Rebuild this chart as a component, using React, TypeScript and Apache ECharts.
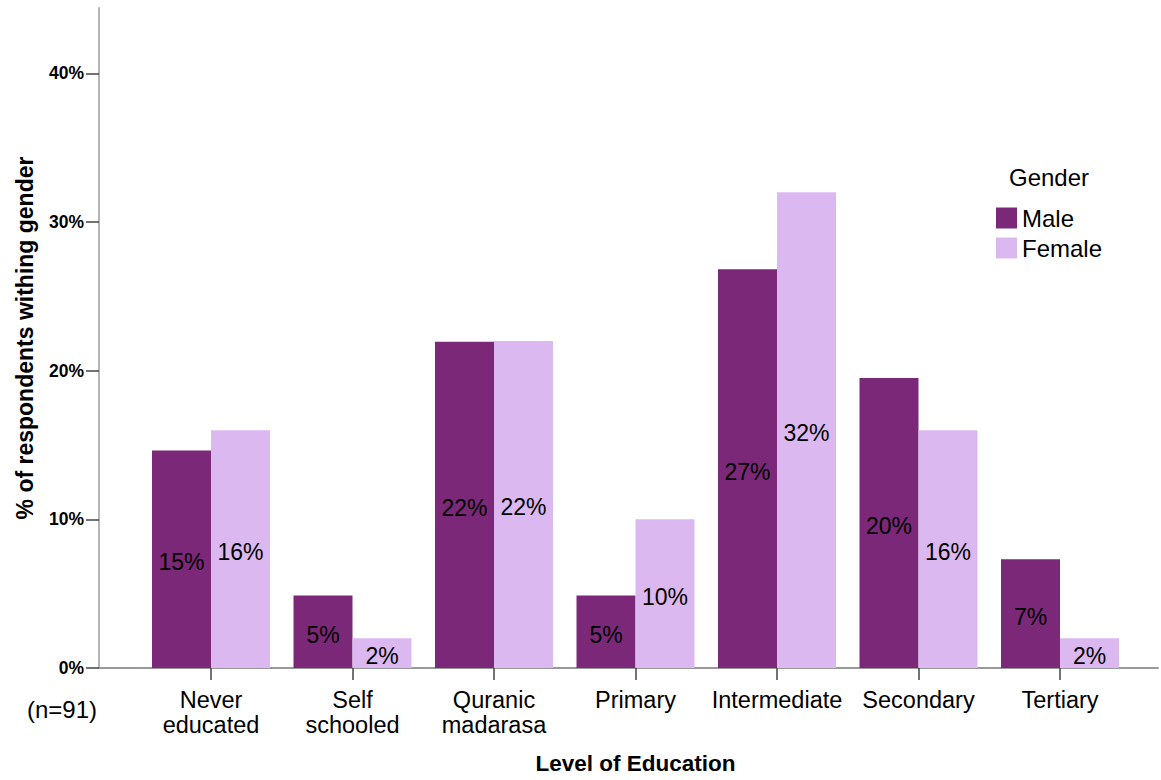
import React, { useEffect, useRef } from "react";
import * as echarts from "echarts";

const categories = [
  "Never\neducated",
  "Self\nschooled",
  "Quranic\nmadarasa",
  "Primary",
  "Intermediate",
  "Secondary",
  "Tertiary",
];
const maleValues = [14.63, 4.88, 21.95, 4.88, 26.83, 19.51, 7.32];
const femaleValues = [16, 2, 22, 10, 32, 16, 2];
const yTicks = [0, 10, 20, 30, 40];
const seriesNames = ["Male", "Female"];

const FONT = "'Liberation Sans', Arial, sans-serif";
const MALE = "#7b2878";
const FEMALE = "#dcb8f0";
const YMAX = 44.4;

export default function App() {
  const ref = useRef<HTMLDivElement>(null);
  useEffect(() => {
    if (!ref.current) return;
    const chart = echarts.init(ref.current, undefined, { renderer: "svg" });
    const label = {
      show: true,
      position: "inside",
      offset: [0, 3],
      color: "#000",
      fontSize: 23,
      fontFamily: FONT,
      formatter: (p: any) => `${Math.round(p.value)}%`,
    };
    chart.setOption({
      animation: false,
      backgroundColor: "#fff",
      textStyle: { fontFamily: FONT },
      title: {
        text: "Gender",
        left: 1004,
        top: 160,
        textStyle: { fontSize: 24, fontWeight: "normal", color: "#000", fontFamily: FONT },
      },
      legend: {
        data: seriesNames,
        orient: "vertical",
        left: 991,
        top: 201,
        itemWidth: 21,
        itemHeight: 21,
        itemGap: 6,
        icon: "rect",
        textStyle: { fontSize: 24, color: "#000", fontFamily: FONT },
      },
      graphic: [
        {
          type: "text",
          left: 27,
          top: 697,
          style: { text: "(n=91)", fontSize: 24, fill: "#000", fontFamily: FONT },
        },
      ],
      grid: [
        { left: 99, top: 8, right: 3, bottom: 112 },
        { left: 140.25, top: 8, width: 990.5, bottom: 112 },
      ],
      xAxis: [
        {
          gridIndex: 0,
          type: "category",
          data: [""],
          axisLine: { show: true, lineStyle: { color: "#999", width: 2 } },
          axisTick: { show: false },
          axisLabel: { show: false },
        },
        {
          gridIndex: 1,
          type: "category",
          data: categories,
          name: "Level of Education",
          nameLocation: "middle",
          nameGap: 84,
          nameTextStyle: { fontSize: 22.5, fontWeight: "bold", color: "#000", fontFamily: FONT },
          axisLine: { show: false },
          axisTick: {
            show: true,
            alignWithLabel: true,
            length: 12,
            lineStyle: { color: "#444", width: 1.5 },
          },
          axisLabel: {
            interval: 0,
            fontSize: 23.5,
            lineHeight: 24.5,
            margin: 20,
            color: "#000",
            fontFamily: FONT,
          },
        },
      ],
      yAxis: [
        {
          gridIndex: 0,
          type: "value",
          min: 0,
          max: YMAX,
          name: "% of respondents withing gender",
          nameLocation: "middle",
          nameGap: 63,
          nameTextStyle: { fontSize: 23, fontWeight: "bold", color: "#000", fontFamily: FONT },
          axisLine: { show: true, lineStyle: { color: "#b5b5b5", width: 2 } },
          axisTick: {
            show: true,
            length: 13,
            customValues: yTicks,
            lineStyle: { color: "#444", width: 1.5 },
          },
          axisLabel: {
            customValues: yTicks,
            formatter: (v: number) => `${v}%`,
            fontSize: 17.5,
            fontWeight: "bold",
            color: "#000",
            margin: 15,
            fontFamily: FONT,
          },
          splitLine: { show: false },
        },
        {
          gridIndex: 1,
          type: "value",
          min: 0,
          max: YMAX,
          show: false,
          splitLine: { show: false },
        },
      ],
      series: [
        {
          name: seriesNames[0],
          type: "bar",
          xAxisIndex: 1,
          yAxisIndex: 1,
          data: maleValues,
          barWidth: 59,
          barGap: "0%",
          itemStyle: { color: MALE },
          label,
        },
        {
          name: seriesNames[1],
          type: "bar",
          xAxisIndex: 1,
          yAxisIndex: 1,
          data: femaleValues,
          barWidth: 59,
          barGap: "0%",
          itemStyle: { color: FEMALE },
          label,
        },
      ],
    });
    return () => chart.dispose();
  }, []);
  return (
    <div
      ref={ref}
      style={{ position: "absolute", left: 0, top: 0, width: 1161, height: 780 }}
    />
  );
}
